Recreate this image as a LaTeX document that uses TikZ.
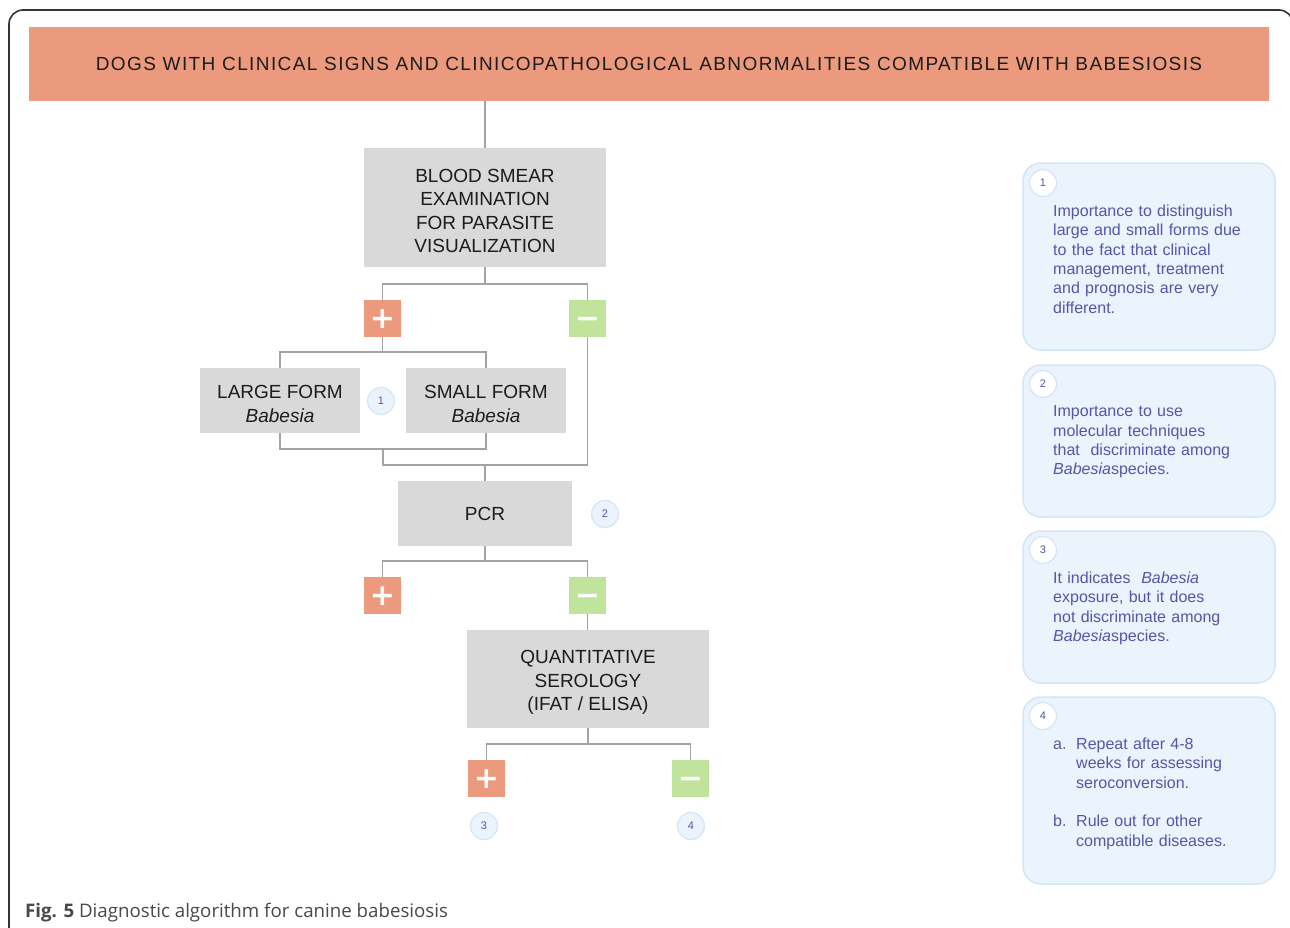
\documentclass[tikz,border=0pt]{standalone}
\usepackage{fontspec}
\setmainfont{Liberation Sans}
\newfontfamily\capfont{Open Sans}
\newfontfamily\widefont[LetterSpace=7.4]{Liberation Sans}
\newfontfamily\signfont{DejaVu Sans}
\newcommand{\lift}{\rule{0pt}{20pt}}
\definecolor{salmon}{HTML}{EC9A7E}
\definecolor{leaf}{HTML}{C0E49C}
\definecolor{boxgray}{HTML}{D9D9D9}
\definecolor{linegray}{HTML}{A3A3A3}
\definecolor{notefill}{HTML}{EBF4FD}
\definecolor{noteline}{HTML}{D3E6F7}
\definecolor{indigo}{HTML}{5457A6}
\definecolor{ink}{HTML}{1C1C1C}
\begin{document}
\begin{tikzpicture}[x=1pt, y=-1pt,
    stage/.style={fill=boxgray, inner sep=0pt, align=center, text=ink, font=\fontsize{19}{23.3}\selectfont},
    plusbox/.style={fill=salmon, minimum size=37pt, inner sep=0pt, text=white, text height=19.5pt, text depth=0pt, font=\signfont\fontsize{30}{30}\selectfont\bfseries},
    minusbox/.style={plusbox, fill=leaf},
    conn/.style={draw=linegray, line width=1.8pt},
    refmark/.style={circle, minimum size=27pt, inner sep=0pt, fill=notefill, draw=noteline, line width=1.2pt, text=indigo, font=\fontsize{11}{11}\selectfont},
    notemark/.style={refmark, fill=white},
    notebox/.style={fill=notefill, draw=noteline, line width=1.5pt, rounded corners=18pt},
    notetext/.style={anchor=north west, inner sep=0pt, align=left, text width=215pt, text=indigo, font=\fontsize{16}{19.4}\selectfont}]
\clip (0,0) rectangle (1290,927);
\fill[white] (0,0) rectangle (1290,927);
\draw[ink!90, line width=1.6pt, rounded corners=14pt] (9,10) rectangle (1293,990);

\node[fill=salmon, minimum width=1240pt, minimum height=74pt, inner sep=0pt, text=ink, font=\widefont\fontsize{19}{23}\selectfont] (dogs) at (649,64) {DOGS WITH CLINICAL SIGNS AND CLINICOPATHOLOGICAL ABNORMALITIES COMPATIBLE WITH BABESIOSIS};

\node[stage, minimum width=242pt, minimum height=119pt] (smear) at (485,207.5) {\lift BLOOD SMEAR\\EXAMINATION \\ FOR PARASITE\\VISUALIZATION};
\node[plusbox] (smearpos) at (382.5,318.5) {+};
\node[minusbox] (smearneg) at (587.5,318.5) {\char"2212};
\node[stage, minimum width=160pt, minimum height=65pt] (large) at (280,400.5) {\lift LARGE FORM\\\textit{Babesia}};
\node[stage, minimum width=160pt, minimum height=65pt] (small) at (486,400.5) {\lift SMALL FORM\\\textit{Babesia}};
\node[refmark] (markA) at (381,401) {1};
\node[stage, minimum width=174pt, minimum height=65pt] (pcr) at (485,513.5) {PCR};
\node[refmark] (markB) at (605,514) {2};
\node[plusbox] (pcrpos) at (382.5,595.5) {+};
\node[minusbox] (pcrneg) at (587.5,595.5) {\char"2212};
\node[stage, minimum width=242pt, minimum height=98pt] (sero) at (588,679) {\lift QUANTITATIVE\\SEROLOGY\\(IFAT / ELISA)};
\node[plusbox] (seropos) at (486.5,778.5) {+};
\node[minusbox] (seroneg) at (690.5,778.5) {\char"2212};
\node[refmark] (markC) at (484,826) {3};
\node[refmark] (markD) at (691,826) {4};

\coordinate (formsjoin) at (383,449);
\coordinate (pcrjoin) at (485,465);

\draw[conn] (dogs.south -| smear.north) -- (smear.north);
\draw[conn] (smear.south) -- ++(0,17) -| (smearpos.north);
\draw[conn] (smear.south) -- ++(0,17) -| (smearneg.north);
\draw[conn] (smearpos.south) -- ++(0,15) -| (large.north);
\draw[conn] (smearpos.south) -- ++(0,15) -| (small.north);
\draw[conn] (large.south) |- (formsjoin) -| (small.south);
\draw[conn] (formsjoin) |- (pcrjoin) -| (smearneg.south);
\draw[conn] (pcrjoin) -- (pcr.north);
\draw[conn] (pcr.south) -- ++(0,15) -| (pcrpos.north);
\draw[conn] (pcr.south) -- ++(0,15) -| (pcrneg.north);
\draw[conn] (pcrneg.south) -- (pcrneg.south |- sero.north);
\draw[conn] (sero.south) -- ++(0,16) -| (seropos.north);
\draw[conn] (sero.south) -- ++(0,16) -| (seroneg.north);

\draw[notebox] (1023,163) rectangle (1275,350);
\draw[notebox] (1023,365) rectangle (1275,517);
\draw[notebox] (1023,531) rectangle (1275,683);
\draw[notebox] (1023,697) rectangle (1275,884);
\node[notemark] (noteA) at (1043,183) {1};
\node[notemark] (noteB) at (1043,384) {2};
\node[notemark] (noteC) at (1043,550) {3};
\node[notemark] (noteD) at (1043,716) {4};
\node[notetext] at (1053,204.5) {Importance to distinguish\\large and small forms due\\to the fact that clinical\\management, treatment\\and prognosis are very\\different.};
\node[notetext] at (1053,405.5) {Importance to use\\molecular techniques\\that\ \ discriminate among\\\textit{Babesia}species.};
\node[notetext] at (1053,571.5) {It indicates\ \ \textit{Babesia}\\exposure, but it does\\not discriminate among\\\textit{Babesia}species.};
\node[notetext] at (1053,737.5) {\makebox[23pt][l]{a.}Repeat after 4-8\\\hspace*{23pt}weeks for assessing\\\hspace*{23pt}seroconversion.\\[19.4pt]\makebox[23pt][l]{b.}Rule out for other\\\hspace*{23pt}compatible diseases.};

\node[anchor=base west, inner sep=0pt, text=ink!80, font=\capfont\fontsize{18.7}{19}\selectfont] (caption) at (25,917) {\textbf{Fig. 5} Diagnostic algorithm for canine babesiosis};
\end{tikzpicture}
\end{document}
